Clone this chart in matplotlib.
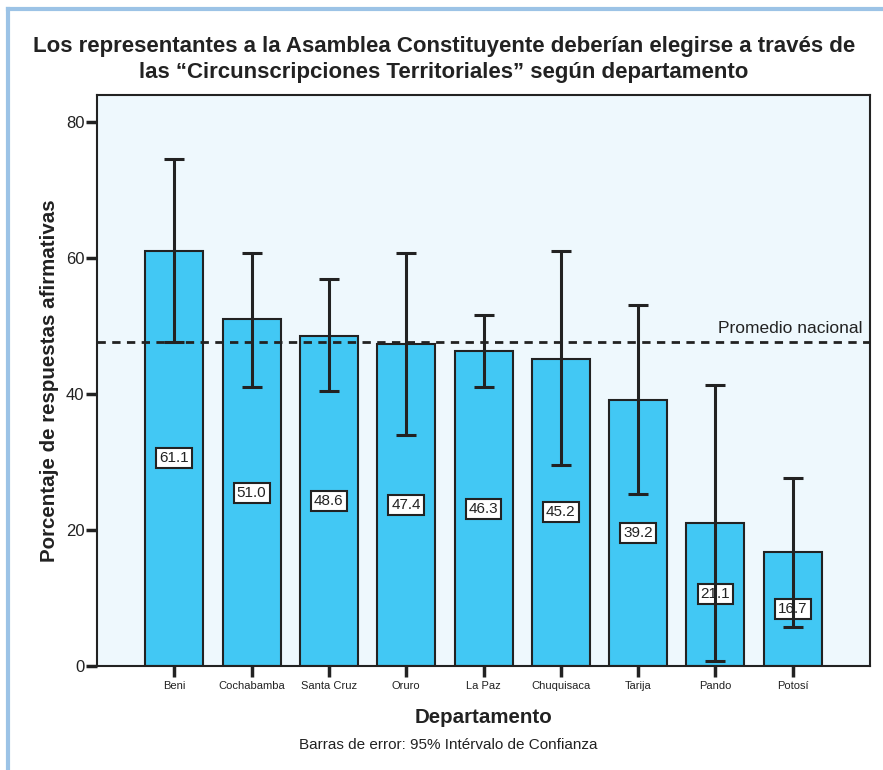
import numpy as np
import matplotlib
matplotlib.use("Agg")
import matplotlib.pyplot as plt
from matplotlib.lines import Line2D

plt.rcParams['font.family'] = ['Liberation Sans', 'DejaVu Sans']

departamentos = ['Beni', 'Cochabamba', 'Santa Cruz', 'Oruro', 'La Paz',
                 'Chuquisaca', 'Tarija', 'Pando', 'Potosí']
porcentaje = [61.1, 51.0, 48.6, 47.4, 46.3, 45.2, 39.2, 21.1, 16.7]
ic_bajo = [47.6, 41.1, 40.4, 34.0, 41.0, 29.5, 25.3, 0.8, 5.8]
ic_alto = [74.6, 60.8, 56.9, 60.8, 51.6, 61.1, 53.1, 41.4, 27.7]
promedio_nacional = 47.6

fig = plt.figure(figsize=(8.83, 7.7), dpi=100)
ax = fig.add_axes([0.1099, 0.1351, 0.8754, 0.7415])
ax.set_facecolor('#eef8fd')

x = np.arange(len(departamentos))
ax.bar(x, porcentaje, width=0.75, color='#42c8f4', edgecolor='#222222',
       linewidth=1.5, zorder=2)

# etiquetas en cajas a media altura
for xi, v in zip(x, porcentaje):
    ax.text(xi, v / 2, f'{v:.1f}', ha='center', va='center', fontsize=11,
            color='#222222', zorder=3,
            bbox=dict(boxstyle='square,pad=0.2', fc='white', ec='#222222', lw=1.5))

err = [np.array(porcentaje) - np.array(ic_bajo), np.array(ic_alto) - np.array(porcentaje)]
ax.errorbar(x, porcentaje, yerr=err, fmt='none', ecolor='#222222',
            elinewidth=2.2, capsize=7.5, capthick=2.2, zorder=4)

ax.axhline(promedio_nacional, color='#222222', lw=2, ls=(0, (3, 2.3)), zorder=5)
ax.text(8.9, promedio_nacional + 0.9, 'Promedio nacional', ha='right', va='bottom',
        fontsize=12.5, color='#222222')

ax.set_xlim(-1, 9)
ax.set_ylim(0, 84)
ax.set_yticks([0, 20, 40, 60, 80])
ax.set_xticks(x)
ax.set_xticklabels(departamentos, fontsize=8, color='#222222')
ax.tick_params(axis='y', labelsize=12, length=8, width=2.5, colors='#222222', pad=1)
ax.tick_params(axis='x', length=8, width=2.5, colors='#222222', pad=3)
for s in ax.spines.values():
    s.set_color('#222222')
    s.set_linewidth(1.5)

ax.set_ylabel('Porcentaje de respuestas afirmativas', fontsize=14.8,
              fontweight='bold', color='#222222', labelpad=5)
ax.set_xlabel('Departamento', fontsize=14.8, fontweight='bold', color='#222222',
              labelpad=12)

fig.text(0.503, 0.923, 'Los representantes a la Asamblea Constituyente deberían elegirse a través de\n'
         'las “Circunscripciones Territoriales” según departamento',
         ha='center', va='center', fontsize=16, fontweight='bold', color='#222222',
         linespacing=1.3)
fig.text(0.508, 0.032, 'Barras de error: 95% Intérvalo de Confianza', ha='center',
         va='center', fontsize=11, color='#222222')

# marco azul claro
fig.add_artist(Line2D([0.009, 0.009], [0, 0.988], color='#9cc3e6', lw=3,
                      transform=fig.transFigure))
fig.add_artist(Line2D([0.009, 1.0], [0.988, 0.988], color='#9cc3e6', lw=3,
                      transform=fig.transFigure))

fig.savefig('out.png', dpi=100)
